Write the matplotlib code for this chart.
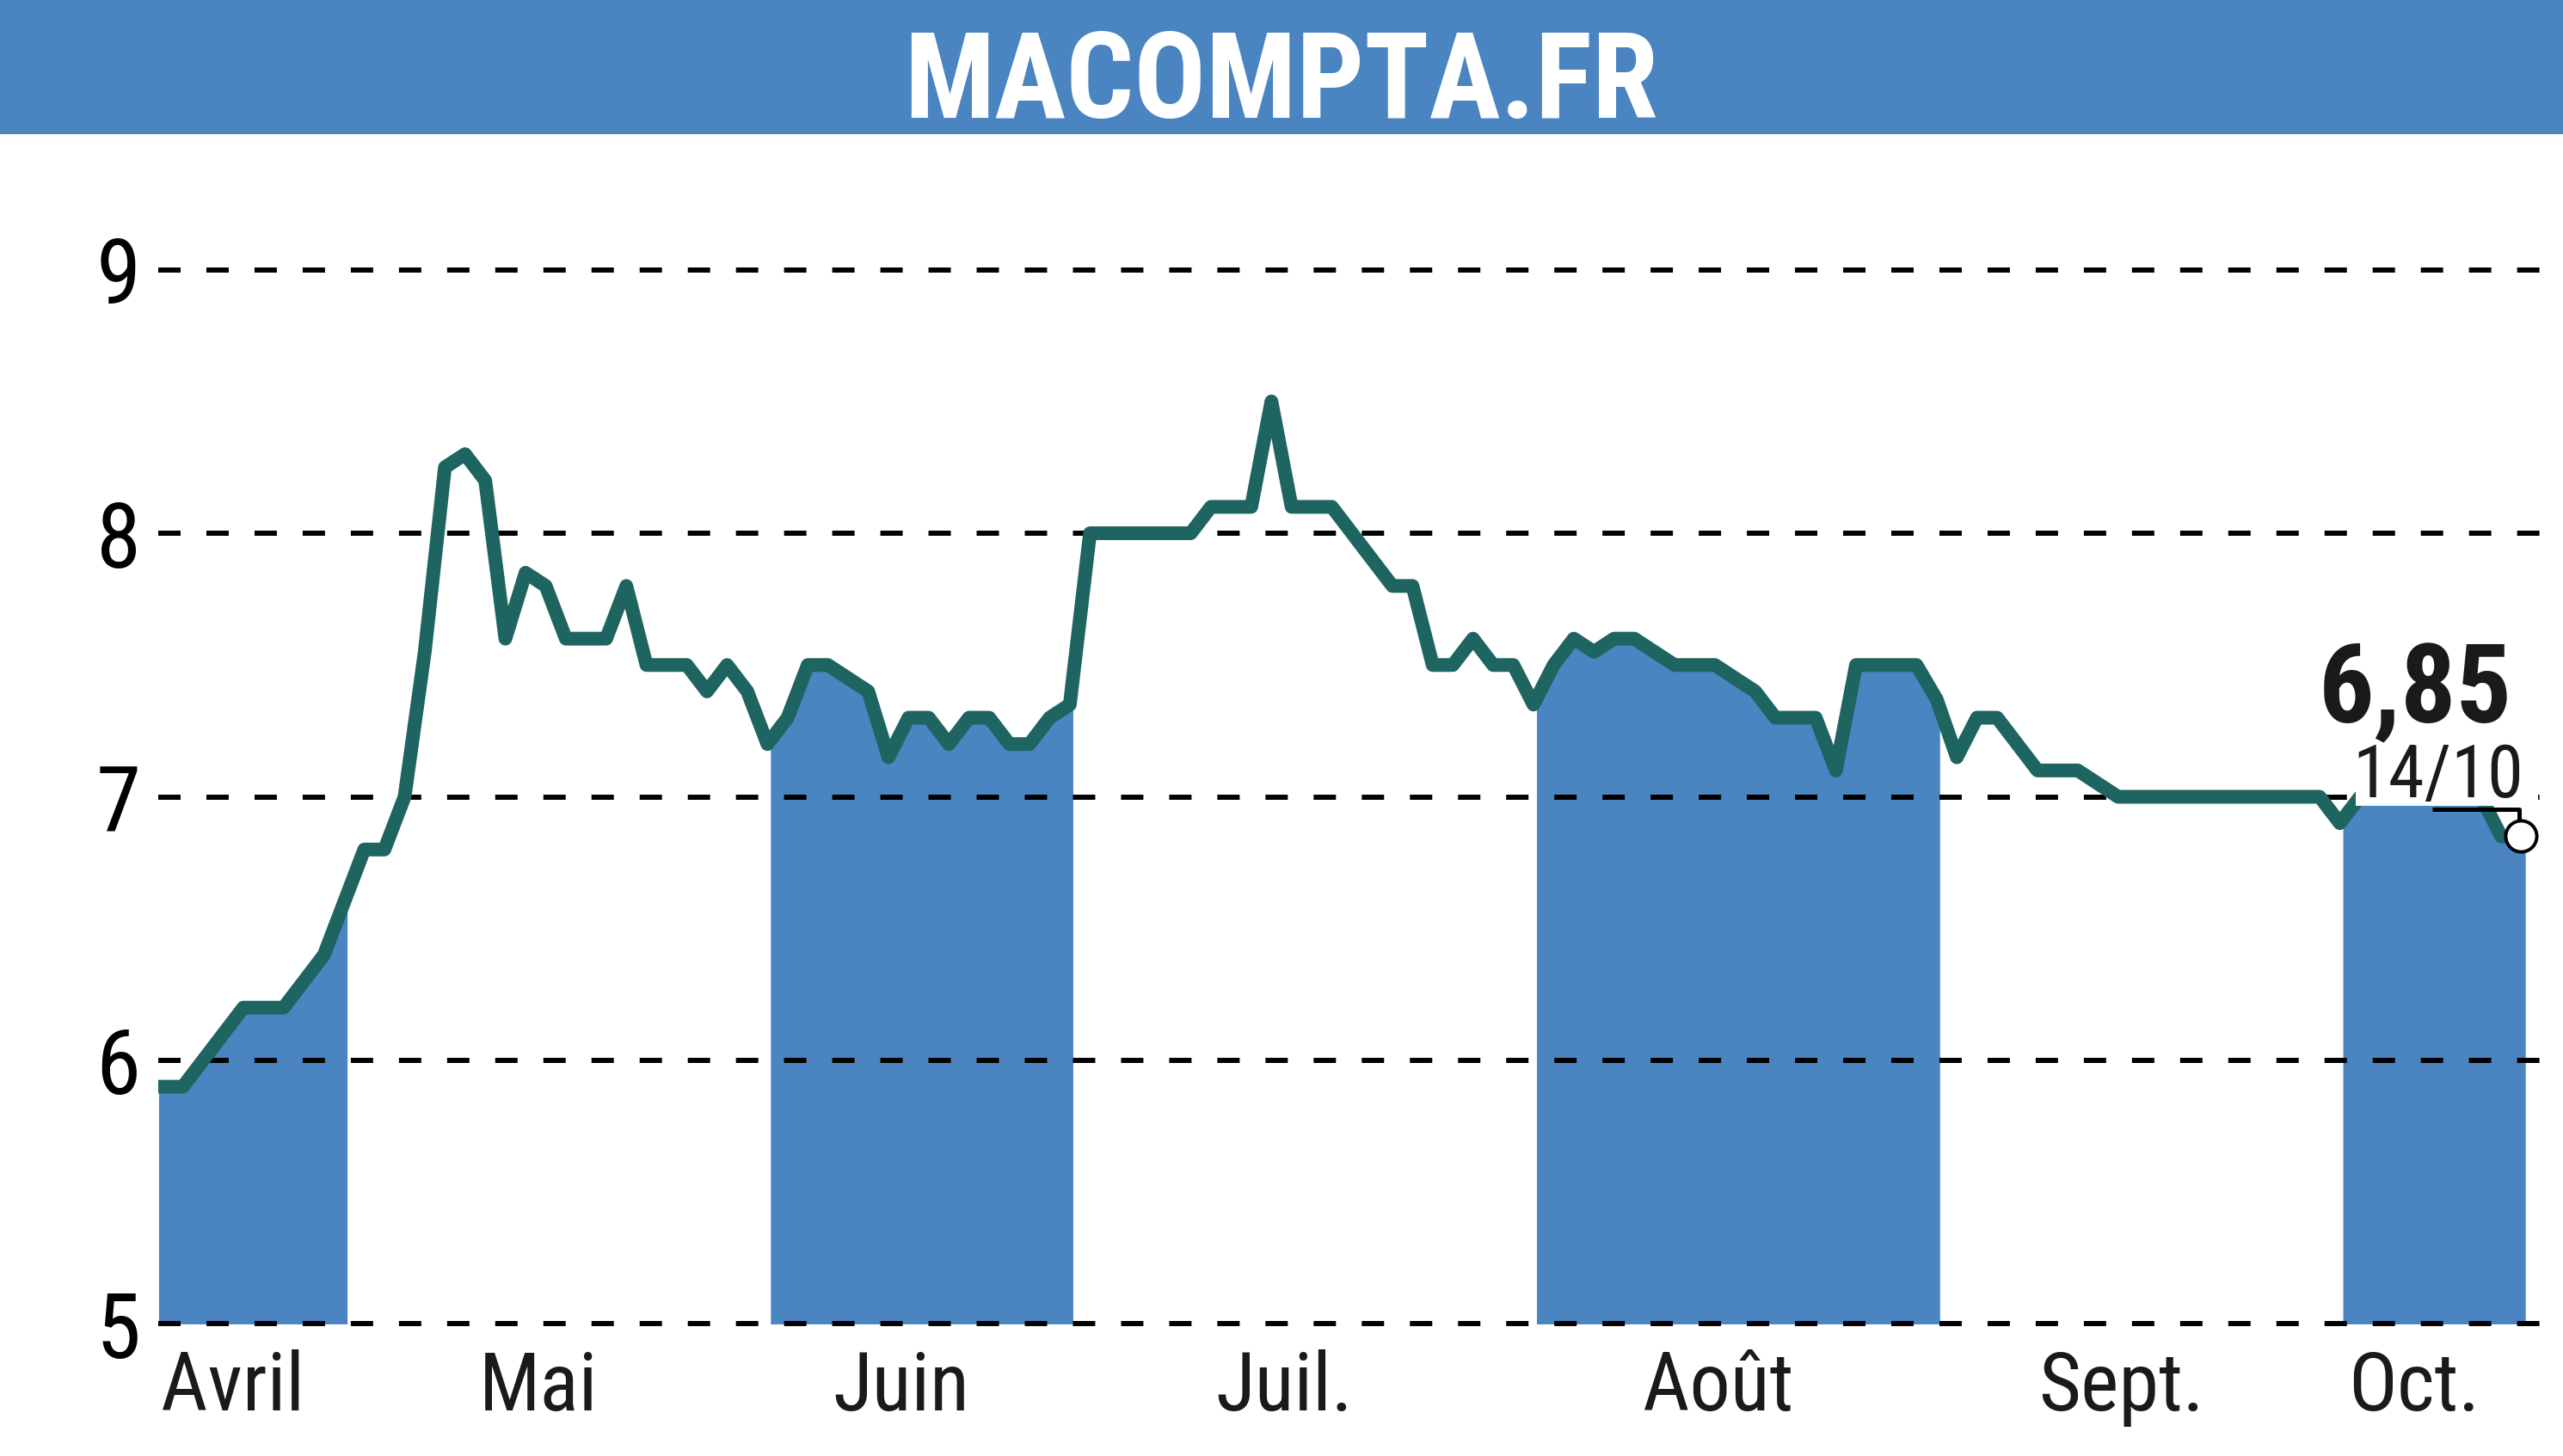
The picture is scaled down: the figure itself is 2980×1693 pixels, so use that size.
"""
plot.py
=======
Share price chart for MACOMPTA.FR (daily closes, April to mid October).
"""

import numpy as np
import matplotlib
matplotlib.use("Agg")
import matplotlib.pyplot as plt
from matplotlib import font_manager as fm
from matplotlib.patches import Rectangle


# ============================================================================
# DATA
# ============================================================================

TITLE = "MACOMPTA.FR"
LAST_DATE = "14/10"

MONTHS = ["Avril", "Mai", "Juin", "Juil.", "Août", "Sept.", "Oct."]
# index of the first trading day of each month in VALUES
MONTH_START = [0, 10, 31, 46, 69, 89, 109]

VALUES = [
    5.9, 5.9, 6.0, 6.1, 6.2, 6.2, 6.2, 6.3, 6.4, 6.6,           # Avril
    6.8, 6.8, 7.0, 7.55, 8.25, 8.3, 8.2, 7.6, 7.85, 7.8,         # Mai
    7.6, 7.6, 7.6, 7.8, 7.5, 7.5, 7.5, 7.4, 7.5, 7.4, 7.2,
    7.3, 7.5, 7.5, 7.45, 7.4, 7.15, 7.3, 7.3, 7.2, 7.3,          # Juin
    7.3, 7.2, 7.2, 7.3, 7.35,
    8.0, 8.0, 8.0, 8.0, 8.0, 8.0, 8.1, 8.1, 8.1, 8.5,            # Juil.
    8.1, 8.1, 8.1, 8.0, 7.9, 7.8, 7.8, 7.5, 7.5, 7.6,
    7.5, 7.5, 7.35,
    7.5, 7.6, 7.55, 7.6, 7.6, 7.55, 7.5, 7.5, 7.5, 7.45,         # Août
    7.4, 7.3, 7.3, 7.3, 7.1, 7.5, 7.5, 7.5, 7.5, 7.37,
    7.15, 7.3, 7.3, 7.2, 7.1, 7.1, 7.1, 7.05, 7.0, 7.0,          # Sept.
    7.0, 7.0, 7.0, 7.0, 7.0, 7.0, 7.0, 7.0, 7.0, 6.9,
    7.0, 7.0, 7.0, 7.0, 7.0, 7.0, 7.0, 6.85, 6.85,               # Oct.
]

YTICKS = [5, 6, 7, 8, 9]


# ============================================================================
# STYLE
# ============================================================================

BLUE = "#4a84c1"
LINE = "#1e6461"
TEXT = "#1a1a1a"

DPI = 100
FIG_W, FIG_H = 29.8, 16.93


def pick_font(candidates):
    """Return the first installed family from the list."""
    for name in candidates:
        try:
            fm.findfont(fm.FontProperties(family=name), fallback_to_default=False)
            return name
        except Exception:
            continue
    return "DejaVu Sans"


NARROW = pick_font(["Liberation Sans Narrow", "Roboto Condensed", "Open Sans Condensed",
                    "Liberation Sans", "DejaVu Sans"])


# ============================================================================
# PLOT
# ============================================================================

def draw():
    x = np.arange(len(VALUES))
    y = np.array(VALUES)
    last_x, last_y = x[-1], y[-1]

    fig = plt.figure(figsize=(FIG_W, FIG_H), dpi=DPI)
    fig.patch.set_facecolor("white")

    # title bar
    fig.patches.append(Rectangle((0, 0.908), 1, 0.092, transform=fig.transFigure,
                                 facecolor=BLUE, edgecolor="none", zorder=0))
    fig.text(0.5, 0.919, TITLE, color="white", fontsize=100, fontweight="bold",
             family=NARROW, ha="center", va="baseline")

    ax = fig.add_axes([0.0619, 0.0907, 0.9381, 0.7965])
    ax.set_xlim(-0.2, 119.07)
    ax.set_ylim(5, 9.4)
    for s in ax.spines.values():
        s.set_visible(False)

    # month bands (every other month shaded under the curve)
    bounds = [max(s - 0.85, -0.2) for s in MONTH_START] + [last_x + 0.2]
    for k in range(0, len(MONTHS), 2):
        a, b = bounds[k], bounds[k + 1]
        xs = np.concatenate([[a], x[(x > a) & (x < b)], [b]])
        ax.fill_between(xs, 5, np.interp(xs, x, y), color=BLUE, lw=0, zorder=1)

    # dashed grid
    lw_grid = 4.3
    for v in YTICKS:
        ax.axhline(v, color="black", lw=lw_grid, zorder=2, clip_on=False,
                   ls=(0, (18.7 / lw_grid, 21.6 / lw_grid)))

    # price line
    ax.plot(x, y, color=LINE, lw=11.5, solid_joinstyle="round", zorder=3)

    # last value label
    ax.add_patch(Rectangle((last_x - 8.2, last_y + 0.116), 9.05, 0.8,
                           facecolor="white", edgecolor="none", zorder=4))
    ax.text(last_x - 0.45, last_y + 0.43, f"{last_y:.2f}".replace(".", ","),
            fontsize=92, fontweight="bold", family=NARROW, color=TEXT,
            ha="right", va="baseline", zorder=5)
    ax.text(last_x + 0.1, last_y + 0.147, LAST_DATE, fontsize=61, family=NARROW,
            color=TEXT, ha="right", va="baseline", zorder=5)
    ax.plot([last_x - 4.4, last_x - 0.1, last_x - 0.1],
            [last_y + 0.103, last_y + 0.103, last_y + 0.06],
            color="black", lw=3.6, solid_capstyle="butt", zorder=5)
    ax.plot([last_x], [last_y], "o", ms=26, mfc="white", mec="black", mew=2.8,
            zorder=6, clip_on=False)

    # axes labels
    ax.set_yticks(YTICKS)
    ax.set_yticklabels([str(t) for t in YTICKS], fontsize=76, family=NARROW, color="black")
    ax.tick_params(axis="y", length=0, pad=15)

    centers = [(bounds[k] + bounds[k + 1]) / 2 - 1.0 for k in range(len(MONTHS))]
    ax.set_xticks(centers)
    ax.set_xticklabels(MONTHS, fontsize=68, family=NARROW, color=TEXT)
    ax.tick_params(axis="x", length=0, pad=21)

    fig.savefig("out.png", dpi=DPI, facecolor="white")
    plt.close(fig)


if __name__ == "__main__":
    draw()
